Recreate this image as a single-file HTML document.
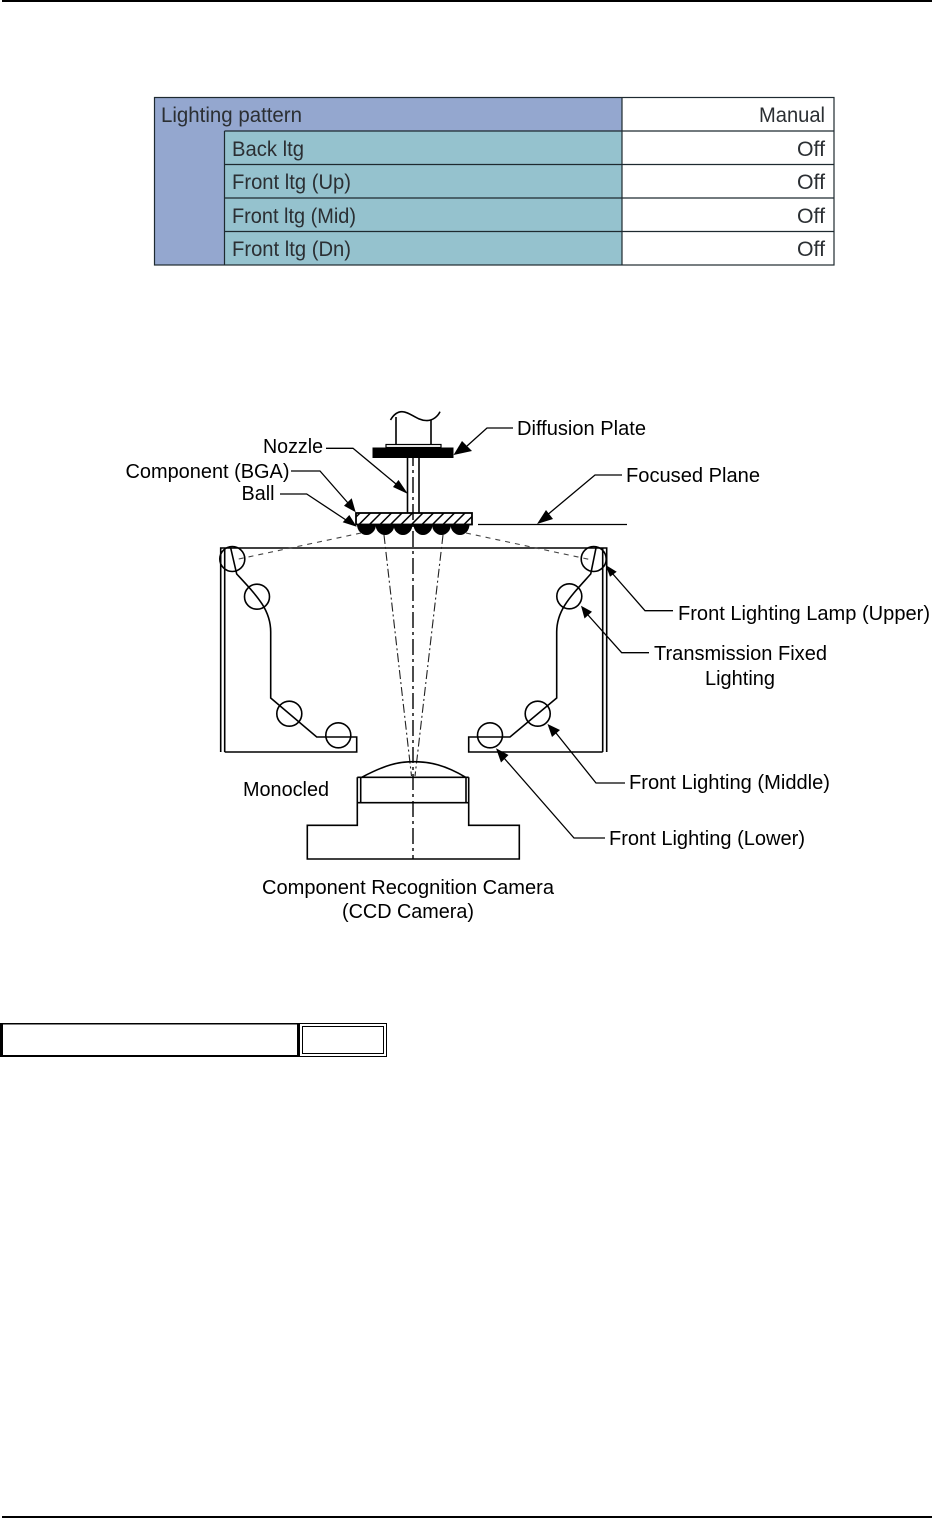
<!DOCTYPE html>
<html>
<head>
<meta charset="utf-8">
<style>
html,body{margin:0;padding:0;background:#fff;width:932px;height:1518px;overflow:hidden}
svg{display:block}
.t{font-family:"Liberation Sans",Arial,sans-serif;font-size:20px;fill:#000}
.g{font-family:"Liberation Sans",Arial,sans-serif;font-size:21.5px;fill:#2b2f33;font-weight:normal}
.l{fill:none;stroke:#000;stroke-width:1.3}
.h{fill:none;stroke:#000;stroke-width:1.6}
</style>
</head>
<body>
<svg width="932" height="1518" viewBox="0 0 932 1518" xmlns="http://www.w3.org/2000/svg">
<defs>
<clipPath id="cp"><rect x="356" y="513" width="116" height="11.5"/></clipPath>
</defs>
<rect width="932" height="1518" fill="#fff"/>
<rect x="2" y="0" width="930" height="2" fill="#000"/>
<rect x="2" y="1516" width="930" height="2" fill="#000"/>

<!-- Table -->
<rect x="154.5" y="97.5" width="468" height="167.5" fill="#94A7CF"/>
<rect x="224.5" y="131" width="398" height="134" fill="#95C2CE"/>
<g fill="none" stroke="#1e2a30" stroke-width="1.2">
<rect x="154.5" y="97.5" width="679.5" height="167.5"/>
<path d="M622 97.5V265M224.5 131V265M224.5 131H834M224.5 164.5H834M224.5 198H834M224.5 231.5H834"/>
</g>
<text class="g" x="161" y="122" textLength="141" lengthAdjust="spacingAndGlyphs">Lighting pattern</text>
<text class="g" x="232" y="156" textLength="72" lengthAdjust="spacingAndGlyphs">Back ltg</text>
<text class="g" x="232" y="189" textLength="119" lengthAdjust="spacingAndGlyphs">Front ltg (Up)</text>
<text class="g" x="232" y="223" textLength="124" lengthAdjust="spacingAndGlyphs">Front ltg (Mid)</text>
<text class="g" x="232" y="256" textLength="119" lengthAdjust="spacingAndGlyphs">Front ltg (Dn)</text>
<text class="g" x="759" y="122" textLength="66" lengthAdjust="spacingAndGlyphs">Manual</text>
<text class="g" x="797" y="156" textLength="28" lengthAdjust="spacingAndGlyphs">Off</text>
<text class="g" x="797" y="189" textLength="28" lengthAdjust="spacingAndGlyphs">Off</text>
<text class="g" x="797" y="223" textLength="28" lengthAdjust="spacingAndGlyphs">Off</text>
<text class="g" x="797" y="256" textLength="28" lengthAdjust="spacingAndGlyphs">Off</text>

<!-- Nozzle assembly -->
<path class="h" d="M396 444.5V417M431 444.5V420"/>
<path class="h" d="M390.5 420C394 414 398 411.7 402 411.7C410 411.7 416 420 426 420.5C433 421 438 416 440 411.7"/>
<rect x="386" y="444.5" width="55" height="3" fill="#fff" stroke="#000" stroke-width="1.2"/>
<rect x="372.5" y="447.5" width="81" height="10.5" fill="#000"/>
<path class="h" d="M407.5 458V513M419 458V513"/>

<!-- Component -->
<rect x="356" y="513" width="116" height="11.5" fill="#fff" stroke="#000" stroke-width="1.8"/>
<g clip-path="url(#cp)" stroke="#000" stroke-width="1.5">
<path d="M346 527L362 511M356.500 527L372.500 511M367 527L383 511M377.500 527L393.500 511M388 527L404 511M398.500 527L414.500 511M409 527L425 511M419.500 527L435.500 511M430 527L446 511M440.500 527L456.500 511M451 527L467 511M461.500 527L477.500 511"/>
</g>
<g fill="#000">
<path d="M357 524.500A9.500 10.500 0 0 0 376 524.500Z"/>
<path d="M375.500 524.500A9.500 10.500 0 0 0 394.500 524.500Z"/>
<path d="M393.500 524.500A9.500 10.500 0 0 0 412.500 524.500Z"/>
<path d="M413.500 524.500A9.500 10.500 0 0 0 432.500 524.500Z"/>
<path d="M432 524.500A9.500 10.500 0 0 0 451 524.500Z"/>
<path d="M450.500 524.500A9.500 10.500 0 0 0 469.500 524.500Z"/>
</g>

<!-- Housing -->
<path class="h" d="M220.700 752V548H606.700V752M224.700 752V548M602.700 752V548"/>
<path class="h" d="M224.700 752H356.700V737H316.700L270.700 698V632C270.700 610 258 597 236.700 574L230.700 548"/>
<path class="h" d="M602.700 752H468.700V737H510L556.700 698V632C556.700 610 570 597 590.700 574L596 548"/>
<g fill="none" stroke="#000" stroke-width="1.6">
<circle cx="232.300" cy="559" r="12.500"/><circle cx="257" cy="596.700" r="12.500"/>
<circle cx="289.300" cy="713.700" r="12.500"/><circle cx="338.300" cy="735.300" r="12.500"/>
<circle cx="593.700" cy="559" r="12.500"/><circle cx="569.300" cy="596.300" r="12.500"/>
<circle cx="537.700" cy="713.700" r="12.500"/><circle cx="490" cy="735.300" r="12.500"/>
</g>

<!-- Optical paths -->
<path fill="none" stroke="#444" stroke-width="1.1" stroke-dasharray="5 5" d="M361 533L234 560M466 533L592 560"/>
<path fill="none" stroke="#222" stroke-width="1.1" stroke-dasharray="9 3 2 3" d="M384 535L411.500 776M443 535L415 776"/>
<path fill="none" stroke="#000" stroke-width="1.4" stroke-dasharray="16 4 3 4" d="M413 450V859"/>

<!-- Camera -->
<path class="h" d="M361.700 777.300C385 765 398 761.700 413.300 761.700C430 761.700 445 765 465.700 777.300"/>
<path class="h" d="M357.300 777.300H468.700M357.300 802.700H468.700M360.700 777.300V802.700M466 777.300V802.700"/>
<path class="h" d="M357.300 777.300V825.300H307.300V859H519.300V825.300H468.700V777.300"/>

<!-- Leaders -->
<path class="l" d="M326 448.300H353L396 484"/>
<path class="l" d="M291 471H320L348 503"/>
<path class="l" d="M280 494H306.700L346 520"/>
<path class="l" d="M513 428H487L467 446"/>
<path class="l" d="M622 475H595L546 516"/>
<path class="l" d="M478 524.500H627"/>
<path class="l" d="M673 610.700H645L612 573"/>
<path class="l" d="M649 652.700H621.700L588 615"/>
<path class="l" d="M625 783H596L556 733"/>
<path class="l" d="M605 838H574L504 758"/>
<!-- Arrowheads -->
<g fill="#000">
<polygon points="408,494 393,487 398.500,480"/>
<polygon points="355.700,512.300 344,505.700 351.700,498.300"/>
<polygon points="356.700,526.700 342.700,522.300 349.300,515"/>
<polygon points="453.500,455 462,441 472,451"/>
<polygon points="537,524 546,510 553,519"/>
<polygon points="605.700,565 616.700,571.700 610,576.700"/>
<polygon points="581,605.700 592,611.700 584.500,618.500"/>
<polygon points="547.500,724 560,730 552,737"/>
<polygon points="496,748.300 508.500,755 501,762.500"/>
</g>

<!-- Labels -->
<text class="t" x="517" y="435" textLength="129" lengthAdjust="spacingAndGlyphs">Diffusion Plate</text>
<text class="t" x="263" y="453" textLength="60" lengthAdjust="spacingAndGlyphs">Nozzle</text>
<text class="t" x="125.500" y="478" textLength="164" lengthAdjust="spacingAndGlyphs">Component (BGA)</text>
<text class="t" x="241.500" y="500" textLength="33" lengthAdjust="spacingAndGlyphs">Ball</text>
<text class="t" x="626" y="482" textLength="134" lengthAdjust="spacingAndGlyphs">Focused Plane</text>
<text class="t" x="678" y="620" textLength="252" lengthAdjust="spacingAndGlyphs">Front Lighting Lamp (Upper)</text>
<text class="t" x="654" y="660" textLength="173" lengthAdjust="spacingAndGlyphs">Transmission Fixed</text>
<text class="t" x="705" y="685" textLength="70" lengthAdjust="spacingAndGlyphs">Lighting</text>
<text class="t" x="629" y="789" textLength="201" lengthAdjust="spacingAndGlyphs">Front Lighting (Middle)</text>
<text class="t" x="609" y="845" textLength="196" lengthAdjust="spacingAndGlyphs">Front Lighting (Lower)</text>
<text class="t" x="243" y="796" textLength="86" lengthAdjust="spacingAndGlyphs">Monocled</text>
<text class="t" x="262" y="894" textLength="292" lengthAdjust="spacingAndGlyphs">Component Recognition Camera</text>
<text class="t" x="342" y="918" textLength="132" lengthAdjust="spacingAndGlyphs">(CCD Camera)</text>

<!-- Bottom box -->
<rect x="0" y="1023" width="3" height="34" fill="#000"/>
<rect x="0" y="1023" width="300" height="1.500" fill="#000"/>
<rect x="0" y="1055" width="300" height="2" fill="#000"/>
<rect x="297" y="1023" width="3" height="34" fill="#000"/>
<rect x="299.500" y="1023.500" width="87" height="33" fill="none" stroke="#000" stroke-width="1"/>
<rect x="302.500" y="1026.500" width="81" height="27" fill="none" stroke="#000" stroke-width="1"/>
</svg>
</body>
</html>
